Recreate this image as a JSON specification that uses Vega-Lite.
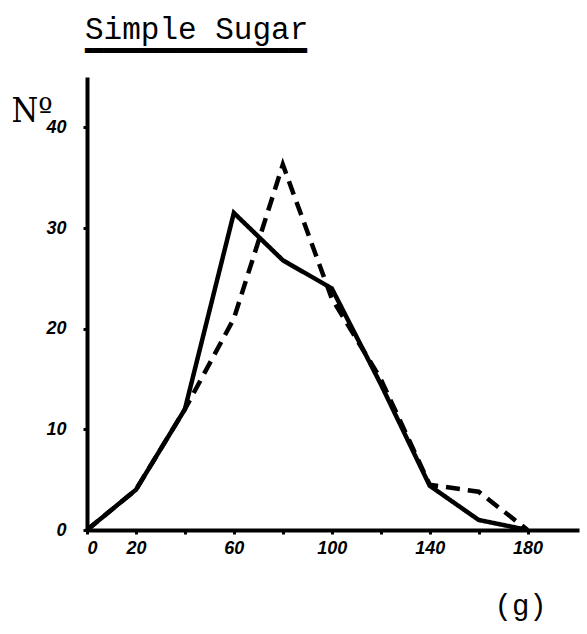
{
  "$schema": "https://vega.github.io/schema/vega-lite/v6.json",
  "width": 492,
  "height": 453,
  "autosize": {"type": "none"},
  "padding": {"left": 87, "top": 77, "right": 8, "bottom": 104},
  "background": "white",
  "title": {
    "text": "Simple Sugar",
    "subtitle": "━━━━━━━━━━━━",
    "font": "Liberation Mono",
    "fontSize": 31,
    "fontWeight": "normal",
    "color": "black",
    "subtitleFont": "DejaVu Sans Mono",
    "subtitleFontSize": 30.7,
    "subtitleFontWeight": "normal",
    "subtitleColor": "black",
    "subtitlePadding": -9,
    "anchor": "start",
    "frame": "group",
    "dx": -2,
    "offset": 9
  },
  "data": {
    "values": [
      {"g": 0, "n": 0, "series": "solid"},
      {"g": 20, "n": 4, "series": "solid"},
      {"g": 40, "n": 12, "series": "solid"},
      {"g": 60, "n": 31.5, "series": "solid"},
      {"g": 80, "n": 26.8, "series": "solid"},
      {"g": 100, "n": 24, "series": "solid"},
      {"g": 120, "n": 14.5, "series": "solid"},
      {"g": 140, "n": 4.4, "series": "solid"},
      {"g": 160, "n": 1, "series": "solid"},
      {"g": 180, "n": 0, "series": "solid"},
      {"g": 0, "n": 0, "series": "dashed"},
      {"g": 20, "n": 4, "series": "dashed"},
      {"g": 40, "n": 12, "series": "dashed"},
      {"g": 60, "n": 21, "series": "dashed"},
      {"g": 80, "n": 36.3, "series": "dashed"},
      {"g": 100, "n": 23, "series": "dashed"},
      {"g": 120, "n": 15, "series": "dashed"},
      {"g": 140, "n": 4.5, "series": "dashed"},
      {"g": 160, "n": 3.8, "series": "dashed"},
      {"g": 180, "n": 0, "series": "dashed"}
    ]
  },
  "mark": {"type": "line", "color": "black", "strokeWidth": 4.5, "strokeJoin": "miter", "clip": false},
  "encoding": {
    "x": {
      "field": "g",
      "type": "quantitative",
      "scale": {"domain": [0, 201], "nice": false, "zero": true},
      "axis": {
        "values": [0, 20, 40, 60, 80, 100, 120, 140, 160, 180],
        "labelExpr": "indexof([0,20,60,100,140,180], datum.value) >= 0 ? datum.label : ''",
        "grid": false,
        "domainColor": "black",
        "domainWidth": 4,
        "tickColor": "black",
        "tickWidth": 3,
        "tickSize": 4,
        "labelFont": "Liberation Sans",
        "labelFontStyle": "italic",
        "labelFontWeight": "bold",
        "labelFontSize": 18,
        "labelColor": "black",
        "labelPadding": 5,
        "title": "(g)",
        "titleFont": "Liberation Mono",
        "titleFontSize": 29,
        "titleFontWeight": "normal",
        "titleColor": "black",
        "titleAnchor": "start",
        "titleAlign": "left",
        "titleBaseline": "alphabetic",
        "titleX": 407,
        "titleY": 84
      }
    },
    "y": {
      "field": "n",
      "type": "quantitative",
      "scale": {"domain": [0, 45], "nice": false},
      "axis": {
        "values": [0, 10, 20, 30, 40],
        "grid": false,
        "domainColor": "black",
        "domainWidth": 4,
        "tickColor": "black",
        "tickWidth": 3,
        "tickSize": 4,
        "labelFont": "Liberation Sans",
        "labelFontStyle": "italic",
        "labelFontWeight": "bold",
        "labelFontSize": 18,
        "labelColor": "black",
        "labelPadding": 17,
        "title": "Nº",
        "titleFont": "'DejaVu Serif Condensed', 'DejaVu Serif'",
        "titleFontSize": 34,
        "titleFontWeight": "normal",
        "titleColor": "black",
        "titleAngle": 0,
        "titleAlign": "left",
        "titleBaseline": "alphabetic",
        "titleX": -76,
        "titleY": 44
      }
    },
    "strokeDash": {
      "field": "series",
      "type": "nominal",
      "scale": {"domain": ["solid", "dashed"], "range": [[1, 0], [14, 8]]},
      "legend": null
    }
  },
  "config": {"view": {"stroke": null}}
}
